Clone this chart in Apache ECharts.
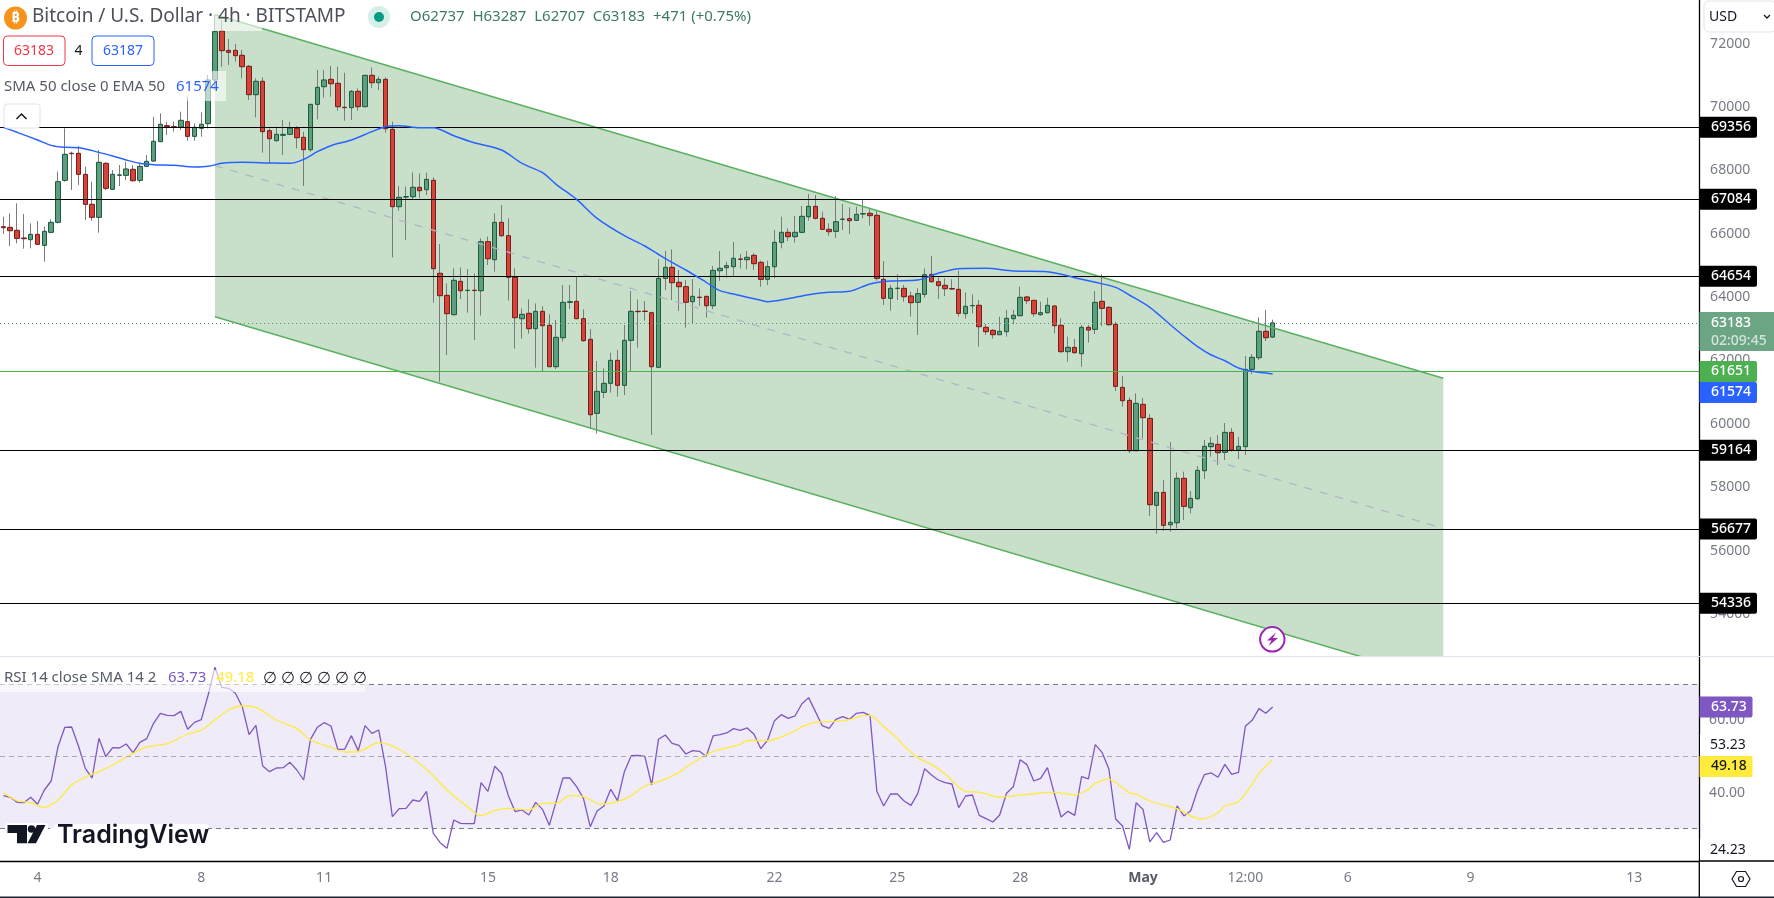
<!DOCTYPE html>
<html>
<head>
    <meta charset="utf-8">
    <title>Bitcoin / U.S. Dollar 4h</title>
    <script src="https://cdn.jsdelivr.net/npm/echarts@6/dist/echarts.min.js"></script>
    <style>
        html, body { margin: 0; padding: 0; background: #fff; }
        #main { width: 1774px; height: 898px; }
    </style>
</head>
<body>
<div id="main"></div>
<script type="text/javascript">
    // candles, first one is 5 bars before 4 Apr 00:00
    var opens = [
        66220,66199,66105,65862,65810,65978,65631,66042,66357,67683,
        68535,68535,67872,66925,66515,68219,67399,67843,67840,68030,
        67683,68124,68293,68903,69408,69376,69366,69534,69071,69324,
        69471,70849,72396,71785,71785,71628,71281,70386,70807,69250,
        68935,69103,69134,69324,69040,68651,70081,70639,70870,70744,
        69987,69976,70491,70008,70996,70765,70870,69292,66852,67157,
        67167,67462,67388,67683,64748,64053,63443,64495,64205,64215,
        64200,65747,65179,66357,65936,64621,63317,63485,63001,63548,
        63106,61802,62717,63832,63864,63317,62665,60329,60992,61276,
        62002,61213,62633,63549,63554,63506,61781,64590,64937,64464,
        64327,63854,63995,64022,63727,64832,64927,64958,65200,65179,
        65316,65095,64558,64958,65726,66042,65905,66042,66536,66862,
        66484,66136,66073,66449,66473,66420,66622,66641,66578,64558,
        63959,64269,64274,64032,63833,64085,64716,64485,64369,64269,
        64243,63475,63724,63738,63044,62949,62812,62907,63317,63412,
        64001,63895,63443,63506,63717,63107,62276,62412,62212,63044,
        62980,63864,63674,63138,61150,60739,59151,60613,60171,57426,
        57836,56815,56878,58278,57352,57636,58520,59277,59351,59098,
        59729,59172,59277,61718,62086,62917,62737
    ];
    var closes = [
        66189,66094,65852,65842,65978,65663,66073,66357,67641,68503,
        68525,67872,66925,66515,68251,67430,67872,67853,68040,67672,
        68124,68282,68914,69450,69376,69365,69576,69071,69355,69450,
        70849,72375,71775,71722,71617,71270,70386,70807,69219,68998,
        69134,69134,69334,69029,68651,70081,70618,70849,70733,70008,
        69977,70491,70008,70996,70765,70870,69313,66852,67146,67167,
        67462,67357,67714,64895,64043,63475,64527,64200,64215,64205,
        65747,65210,66357,65936,64621,63349,63453,63001,63548,63096,
        61802,62728,63832,63853,63317,62623,60287,61024,61276,62002,
        61213,62633,63549,63539,63544,61802,64590,64937,64453,64327,
        63833,64022,63985,63727,64842,64906,64990,65221,65190,65253,
        65053,64558,64958,65726,66042,65905,66042,66547,66862,66484,
        66136,66063,66378,66459,66410,66610,66632,66568,64590,63959,
        64274,64279,64011,63822,64106,64706,64485,64359,64264,64254,
        63485,63706,63734,63065,62907,62812,62917,63328,63422,63990,
        63885,63475,63506,63738,63096,62276,62412,62244,63044,62959,
        63832,63643,63127,61181,60729,59151,60645,60192,57447,57836,
        56794,56889,58278,57394,57646,58530,59288,59382,59088,59729,
        59172,59288,61718,62096,62917,62717,63183
    ];
    var lows = [
        65989,65610,65694,65526,65537,65642,65116,66010,66326,67641,
        67378,67535,66431,66410,66031,67378,67378,67504,67693,67641,
        67609,68114,68272,68903,69113,69219,69271,68935,68935,69061,
        69324,70534,71270,71323,71428,70902,70218,69671,68556,68219,
        68903,68482,69113,68693,67504,68587,69608,70292,70323,69881,
        69566,69587,69881,70008,70597,70534,69187,65253,66725,65800,
        67062,67115,67220,63822,61329,62170,63443,63937,63506,62644,
        63412,65011,64800,65905,63885,62370,62686,62843,61770,61644,
        61802,61728,62591,63622,63317,62591,59835,59687,60813,60982,
        60855,60908,61665,62402,63254,59646,61781,64222,63906,63559,
        63033,63149,63717,63349,63622,64506,64611,64643,64906,64874,
        64853,64327,64380,64590,65537,65768,65716,66010,66410,66452,
        66115,65937,65863,66115,65989,66399,66484,66252,64516,63748,
        63570,63906,63854,63380,62802,63980,64453,63938,64032,64222,
        63380,63317,63485,62433,62802,62686,62802,62749,63149,63412,
        63780,63380,63412,63485,62854,62244,61960,62212,61802,62560,
        62833,63085,63096,61034,60539,59077,59151,59540,57089,56531,
        56615,56594,56700,56963,57173,57594,58257,58961,58698,58856,
        59119,58888,59014,61570,62012,62612,62707
    ];
    var highs = [
        66536,66641,66957,66620,66326,66399,66220,66452,67956,69324,
        68587,68766,68114,67641,68640,68251,68009,68166,68272,68166,
        68219,68482,69692,69797,69534,69534,69850,70323,69482,69829,
        71007,72901,72743,72143,71985,71796,71323,70902,70933,69324,
        69376,69587,69534,69397,69219,70081,71165,71165,71291,71270,
        71081,70534,70586,71007,71249,70954,70933,69534,67504,67483,
        67935,67904,67925,67777,65673,64432,64905,64937,64884,64748,
        65852,65905,66641,66904,66483,64905,63643,63927,63801,63717,
        63453,63275,64379,64379,64663,63612,62991,61981,61750,62244,
        62328,63117,64190,63927,63875,63540,65200,65453,65505,64853,
        64537,64569,64274,64032,64979,65453,65116,65737,65358,65453,
        65379,65148,65148,66115,66536,66168,66557,66873,67252,67220,
        66694,66326,67188,66936,66831,66852,67083,66799,66747,65137,
        64380,64727,64380,64169,64274,64906,65295,64622,64590,64558,
        64832,64148,64085,63906,63149,62980,63380,63591,63591,64327,
        64032,63906,63854,63980,63748,63328,62749,62675,63117,63117,
        64190,64726,63716,63222,61507,60834,60960,60813,60308,57836,
        58225,59424,58467,58488,57878,58667,59487,59582,59645,60024,
        59866,59582,62138,62202,63359,63590,63287
    ];

    // EMA 50 readings, emaBars counted from 4 Apr 00:00
    var emaBars = [-5,-3,0,2,4,6,9,11,13,15,17,20,23,25,27,30,34,37,39,41,43,46,49,51,53,56,58,61,64,68,71,
        74,76,79,82,86,89,92,95,98,100,102,106,107,110,113,116,119,122,125,129,132,135,139,143,148,152,155,
        158,160,163,166,168,170,172,174,176,178,181];
    var emaValues = [69355,69198,68956,68787,68724,68714,68566,68451,68324,68219,68177,68156,68103,68124,68219,68251,68230,68219,68345,68587,68777,68956,69219,69376,69408,69345,69345,69092,68871,68640,68219,
        67925,67557,67083,66484,65937,65610,65211,64853,64464,64201,64096,63896,63854,63948,64075,64148,64180,64411,64506,64537,64748,64895,64906,64821,64800,64611,64464,
        64306,64064,63674,63127,62770,62433,62170,61991,61760,61655,61574];

    var rsiValues = [
        39.15,38.69,37.30,37.21,38.69,36.75,40.72,43.21,52.72,58.08,
        58.17,52.91,46.72,44.04,55.03,49.95,52.45,52.35,53.46,51.06,
        53.92,54.94,59.19,61.96,61.40,61.31,62.51,57.53,59.46,60.20,
        67.04,74.70,69.16,68.88,67.50,63.80,56.05,58.63,47.37,45.80,
        46.81,46.91,48.38,46.26,43.49,54.76,58.08,59.37,58.45,51.99,
        51.99,55.77,51.62,58.54,56.42,57.34,47.18,33.33,35.55,35.64,
        37.95,37.58,40.35,28.72,26.13,24.56,32.41,31.49,31.39,31.39,
        42.75,40.35,47.28,45.34,39.15,34.72,35.18,33.79,37.30,35.36,
        30.93,37.49,44.04,44.04,41.64,38.41,30.56,34.90,36.29,40.90,
        37.76,45.80,50.23,50.32,50.05,42.10,54.76,55.96,53.65,53.09,
        50.69,51.62,51.43,50.05,55.68,56.05,56.51,57.71,57.25,57.90,
        56.14,52.17,54.57,59.93,61.59,60.57,61.22,64.54,66.30,62.42,
        58.54,57.80,60.30,61.03,60.30,61.96,62.23,61.31,40.35,36.29,
        39.61,39.61,37.67,36.47,39.80,46.63,44.88,43.49,42.75,42.38,
        35.83,39.06,39.33,33.70,32.78,31.86,33.79,39.80,41.64,49.12,
        47.74,43.21,43.95,46.91,39.80,33.24,34.81,33.70,44.41,43.77,
        53.28,51.15,46.54,32.69,30.75,24.28,37.21,35.36,26.32,28.90,
        26.22,26.87,36.29,33.52,34.99,40.72,44.97,45.43,44.23,47.83,
        45.06,45.61,58.36,60.02,63.25,61.96,63.73
    ];
    var rsiMaBars = [-5,-3,-1,1,3,5,7,9,11,14,16,19,22,24,26,28,30,32,35,38,40,43,45,47,50,53,57,60,63,65,67,69,72,74,76,78,80,82,
        83,85,87,89,91,94,95,97,99,103,104,107,111,112,114,117,119,121,122,124,126,127,129,131,133,136,138,141,145,149,152,154,155,157,160,161,163,167,170,171,173,174,176,178,179,181];
    var rsiMaValues = [39.98,37.77,37.21,35.83,37.95,42.10,44.32,45.80,47.65,50.88,52.63,53.56,56.23,57.34,60.11,62.88,63.99,63.62,60.11,57.71,54.57,52.54,51.25,51.34,53.83,51.99,46.44,40.72,36.10,33.61,34.99,35.64,35.18,37.03,37.03,39.15,38.87,37.03,
        36.84,37.49,39.15,41.83,43.03,45.52,47.00,49.31,51.34,53.37,54.48,54.39,57.06,58.26,59.46,59.74,60.20,61.31,61.31,58.26,55.03,52.91,49.68,47.83,45.15,40.35,40.07,38.78,39.52,40.07,39.33,40.90,42.57,43.68,39.98,39.52,37.67,35.46,32.87,32.78,34.44,36.29,37.49,42.29,45.34,49.18];

    // channel drawing
    var channelBars = [26, 206];
    var channelUpper = [72916, 61435];
    var channelLower = [63379, 51882];
    var channelMiddle = [68147, 56700];

    // support / resistance
    var blackLevels = [69356, 67084, 64654, 59164, 56677, 54336];
    var greenLevel = 61651;
    var lastPrice = 63183;
    var lastEma = 61574;
    var lastRsi = 63.73;
    var lastRsiMa = 49.18;

    // axes
    var priceTicks = [72000,70000,68000,66000,64000,62000,60000,58000,56000,54000];
    var rsiTicks = [60, 40];
    var rsiScaleLabels = [53.23, 24.23];
    var timeLabels = ['4','8','11','15','18','22','25','28','May','12:00','6','9','13'];
    var timeLabelBars = [0,24,42,66,84,108,126,144,162,177,192,210,234];

    var barOffset = 5;
    var barCount = 249;
    var font = '"Noto Sans", sans-serif';

    function sparse(bars, values) {
        var out = [];
        for (var i = 0; i < barCount; i++) out.push(null);
        bars.forEach(function (b, k) { out[b + barOffset] = values[k]; });
        return out;
    }

    var categories = [];
    for (var c = 0; c < barCount; c++) categories.push('');
    timeLabels.forEach(function (t, k) { categories[timeLabelBars[k] + barOffset] = t; });

    var wickData = opens.map(function (o, k) { return [o, closes[k], lows[k], highs[k]]; });
    var bodyData = opens.map(function (o, k) {
        return [o, closes[k], Math.min(o, closes[k]), Math.max(o, closes[k])];
    });

    var myChart = echarts.init(document.getElementById('main'));

    var levelLines = blackLevels.map(function (v) {
        return { yAxis: v, lineStyle: { color: '#000', width: 1.1, type: 'solid' } };
    });
    levelLines.push({ yAxis: greenLevel, lineStyle: { color: '#4caf50', width: 1.2, type: 'solid' } });
    levelLines.push({ yAxis: lastPrice, lineStyle: { color: '#4f9a75', width: 1, type: [1, 3] } });

    var option = {
        backgroundColor: '#fff',
        animation: false,
        grid: [
            { left: -1.55, width: barCount * 6.83, top: 0, height: 656 },
            { left: -1.55, width: barCount * 6.83, top: 657, height: 204 }
        ],
        xAxis: [
            { type: 'category', gridIndex: 0, data: categories, show: false },
            {
                type: 'category', gridIndex: 1, data: categories,
                axisTick: { show: false },
                axisLine: { lineStyle: { color: '#000', width: 1.3 } },
                axisLabel: {
                    margin: 10,
                    fontFamily: font,
                    fontSize: 14,
                    color: '#787b86',
                    interval: function (index, value) { return value !== ''; },
                    formatter: function (value) { return value === 'May' ? '{b|May}' : value; },
                    rich: { b: { fontFamily: font, fontSize: 14, fontWeight: 'bold', color: '#555a66' } }
                }
            }
        ],
        yAxis: [
            {
                type: 'value', gridIndex: 0, position: 'right',
                min: 52672, max: 73374,
                splitLine: { show: false },
                axisTick: { show: false },
                axisLine: { show: true, lineStyle: { color: '#000', width: 1.3 } },
                axisLabel: {
                    customValues: priceTicks, margin: 11, fontFamily: font, fontSize: 14, color: '#787b86',
                    formatter: function (v) { return String(v); }
                }
            },
            {
                type: 'value', gridIndex: 1, position: 'right',
                min: 21.05, max: 77.56,
                splitLine: { show: false },
                axisTick: { show: false },
                axisLine: { show: true, lineStyle: { color: '#000', width: 1.3 } },
                axisLabel: {
                    customValues: rsiTicks, margin: 10, fontFamily: font, fontSize: 14, color: '#787b86',
                    formatter: function (v) { return v.toFixed(2); }
                }
            }
        ],
        series: [
            {
                type: 'custom', name: 'channel', xAxisIndex: 0, yAxisIndex: 0, z: 1, clip: true, silent: true,
                data: [[channelBars[0] + barOffset, channelUpper[0], channelLower[0], channelBars[1] + barOffset, channelUpper[1], channelLower[1]]],
                renderItem: function (params, api) {
                    var a = api.coord([api.value(0), api.value(1)]);
                    var b = api.coord([api.value(3), api.value(4)]);
                    var c = api.coord([api.value(3), api.value(5)]);
                    var d = api.coord([api.value(0), api.value(2)]);
                    return {
                        type: 'polygon',
                        shape: { points: [a, b, c, d] },
                        style: { fill: 'rgba(56,142,60,0.28)' }
                    };
                }
            },
            {
                type: 'candlestick', name: 'wicks', xAxisIndex: 0, yAxisIndex: 0, z: 2, barWidth: 3, silent: true,
                data: wickData,
                itemStyle: { color: '#7b7b7b', color0: '#7b7b7b', borderColor: '#7b7b7b', borderColor0: '#7b7b7b', borderWidth: 1 }
            },
            {
                type: 'candlestick', name: 'BTCUSD', xAxisIndex: 0, yAxisIndex: 0, z: 3, barWidth: 5, silent: true,
                data: bodyData,
                itemStyle: { color: '#5d9e7d', color0: '#d5443a', borderColor: '#1d5c40', borderColor0: '#7a1d18', borderWidth: 1 }
            },
            {
                type: 'line', name: 'upper', xAxisIndex: 0, yAxisIndex: 0, z: 4, connectNulls: true, showSymbol: false, silent: true,
                data: sparse(channelBars, channelUpper), lineStyle: { color: '#5bb060', width: 1.5 }
            },
            {
                type: 'line', name: 'lower', xAxisIndex: 0, yAxisIndex: 0, z: 4, connectNulls: true, showSymbol: false, silent: true,
                data: sparse(channelBars, channelLower), lineStyle: { color: '#5bb060', width: 1.5 }
            },
            {
                type: 'line', name: 'middle', xAxisIndex: 0, yAxisIndex: 0, z: 4, connectNulls: true, showSymbol: false, silent: true,
                data: sparse(channelBars, channelMiddle), lineStyle: { color: '#b4b4c4', width: 1.3, type: [8, 8] }
            },
            {
                type: 'line', name: 'EMA 50', xAxisIndex: 0, yAxisIndex: 0, z: 5, connectNulls: true, showSymbol: false, silent: true,
                smooth: 0.3,
                data: sparse(emaBars, emaValues), lineStyle: { color: '#2962ff', width: 1.5 },
                markLine: { silent: true, symbol: 'none', label: { show: false }, data: levelLines }
            },
            {
                type: 'line', name: 'RSI', xAxisIndex: 1, yAxisIndex: 1, z: 3, showSymbol: false, silent: true,
                data: rsiValues, lineStyle: { color: '#7e57c2', width: 1.3 },
                markArea: {
                    silent: true,
                    itemStyle: { color: 'rgba(126,87,194,0.12)' },
                    data: [[{ yAxis: 70 }, { yAxis: 30 }]]
                },
                markLine: {
                    silent: true, symbol: 'none', label: { show: false },
                    data: [
                        { yAxis: 70, lineStyle: { color: '#787b86', width: 1, type: [5, 4] } },
                        { yAxis: 50, lineStyle: { color: '#a9a9b3', width: 1, type: [5, 4] } },
                        { yAxis: 30, lineStyle: { color: '#787b86', width: 1, type: [5, 4] } }
                    ]
                }
            },
            {
                type: 'line', name: 'RSI MA', xAxisIndex: 1, yAxisIndex: 1, z: 4, connectNulls: true, showSymbol: false, silent: true,
                smooth: 0.3,
                data: sparse(rsiMaBars, rsiMaValues), lineStyle: { color: '#ffeb3b', width: 1.3 }
            }
        ]
    };
    myChart.setOption(option);

    function text(x, y, str, fill, size, extra) {
        var style = { text: str, fill: fill, font: (extra && extra.weight ? extra.weight + ' ' : '') + size + 'px ' + font, verticalAlign: 'middle', align: (extra && extra.align) || 'left' };
        return { type: 'text', x: x, y: y, z: 30, silent: true, style: style };
    }
    function box(x, y, w, h, fill, stroke, r, z) {
        return {
            type: 'rect', z: z || 20, silent: true,
            shape: { x: x, y: y, width: w, height: h, r: r || 0 },
            style: { fill: fill, stroke: stroke || null, lineWidth: stroke ? 1 : 0 }
        };
    }
    function rule(x1, y1, x2, y2, color, width) {
        return {
            type: 'line', z: 25, silent: true,
            shape: { x1: x1, y1: y1, x2: x2, y2: y2 },
            style: { stroke: color, lineWidth: width || 1 }
        };
    }
    // price scale tag at the right of the pane
    function tag(y, str, bg, color, w) {
        return [
            box(1699.5, y - 10.5, w || 57.5, 21, bg, null, [0, 2, 2, 0], 26),
            text(1711, y, str, color, 14, { weight: 500 })
        ];
    }

    var priceY = function (v) { return myChart.convertToPixel({ yAxisIndex: 0 }, v); };
    var rsiY = function (v) { return myChart.convertToPixel({ yAxisIndex: 1 }, v); };

    var g = [];
    // legend veils
    g.push(box(0, 0, 262, 31, 'rgba(255,255,255,0.6)', null, 0, 10));
    g.push(box(0, 71, 226, 30, 'rgba(255,255,255,0.6)', null, 0, 10));
    g.push(box(0, 670, 365, 22, 'rgba(255,255,255,0.6)', null, 0, 10));

    // header
    g.push({ type: 'circle', z: 20, silent: true, shape: { cx: 15.5, cy: 18, r: 11.5 }, style: { fill: '#f7931a' } });
    g.push(text(15.5, 18, '₿', '#fff', 15, { align: 'center', weight: 'bold' }));
    g.push(text(32, 17, 'Bitcoin / U.S. Dollar · 4h · BITSTAMP', '#4d5059', 19));
    g.push({ type: 'circle', z: 20, silent: true, shape: { cx: 379, cy: 17, r: 11 }, style: { fill: '#d5efe9' } });
    g.push({ type: 'circle', z: 21, silent: true, shape: { cx: 379, cy: 17, r: 5 }, style: { fill: '#089981' } });
    g.push(text(410, 17, 'O62737  H63287  L62707  C63183  +471 (+0.75%)', '#3c7a62', 15));

    g.push(box(3.5, 36, 61.5, 29.5, '#fff', '#f23645', 4));
    g.push(text(34, 51, '63183', '#f23645', 14, { align: 'center' }));
    g.push(text(78.5, 51, '4', '#131722', 14, { align: 'center' }));
    g.push(box(92, 36, 62, 29.5, '#fff', '#2962ff', 4));
    g.push(text(123, 51, '63187', '#2962ff', 14, { align: 'center' }));

    g.push(text(4, 87, 'SMA 50 close 0 EMA 50', '#555a66', 15));
    g.push(text(176, 87, String(lastEma), '#2962ff', 15));

    g.push(box(4, 104, 36, 24, '#fff', '#e0e3eb', 3));
    g.push({ type: 'polyline', z: 30, silent: true, shape: { points: [[16.5, 119], [21.5, 114], [26.5, 119]] }, style: { stroke: '#131722', lineWidth: 1.5, fill: null } });

    // RSI legend
    g.push(text(4, 678, 'RSI 14 close SMA 14 2', '#555a66', 15));
    g.push(text(168, 678, String(lastRsi), '#7e57c2', 15));
    g.push(text(216, 678, String(lastRsiMa), '#ffeb3b', 15));
    [263, 281, 299, 317, 335, 353].forEach(function (x) { g.push(text(x, 678, '∅', '#131722', 16)); });

    // frame bits the axes do not cover
    g.push(rule(0, 656.5, 1774, 656.5, '#e0e3eb', 1));
    g.push(rule(1699, 861, 1774, 861, '#000', 1.3));
    g.push(rule(1699.3, 861, 1699.3, 897, '#000', 1.3));
    g.push(box(0, 896.5, 1774, 1.5, '#1e222d', null, 0, 25));

    // USD button
    g.push(box(1704, 1, 72, 31, '#fff', '#e0e3eb', 5));
    g.push(text(1709, 17, 'USD', '#131722', 14));
    g.push({ type: 'polyline', z: 30, silent: true, shape: { points: [[1764, 15], [1767, 18], [1770, 15]] }, style: { stroke: '#131722', lineWidth: 1.3, fill: null } });

    // settings hexagon
    g.push({ type: 'polygon', z: 30, silent: true, shape: { points: [[1732, 879], [1736.5, 871.5], [1745.5, 871.5], [1750, 879], [1745.5, 886.5], [1736.5, 886.5]] }, style: { stroke: '#131722', lineWidth: 1.2, fill: '#fff' } });
    g.push({ type: 'circle', z: 31, silent: true, shape: { cx: 1741, cy: 879, r: 2.5 }, style: { stroke: '#131722', lineWidth: 1.2, fill: '#fff' } });

    // lightning badge
    g.push({ type: 'circle', z: 30, silent: true, shape: { cx: 1272.3, cy: 639.3, r: 12.2 }, style: { stroke: '#9c27b0', lineWidth: 2, fill: '#fff' } });
    g.push({ type: 'polygon', z: 31, silent: true, shape: { points: [[1276, 632.5], [1267, 640.5], [1271.5, 640.5], [1268.5, 646], [1278, 638], [1273, 638]] }, style: { fill: '#9c27b0' } });

    // TradingView logo, white halo behind it breaks the 30 line
    g.push(box(5, 823, 43, 23, '#fff', null, 3, 28));
    g.push(box(54, 824, 154, 26, '#fff', null, 3, 28));
    g.push({ type: 'polygon', z: 30, silent: true, shape: { points: [[7.5, 825], [27, 825], [27, 843.3], [17, 843.3], [17, 833], [7.5, 833]] }, style: { fill: '#131722' } });
    g.push({ type: 'circle', z: 30, silent: true, shape: { cx: 31.5, cy: 829, r: 3.8 }, style: { fill: '#131722' } });
    g.push({ type: 'polygon', z: 30, silent: true, shape: { points: [[37, 825], [45.5, 825], [36, 843.3], [27.5, 843.3]] }, style: { fill: '#131722' } });
    g.push({
        type: 'text', x: 57, y: 835, z: 30, silent: true,
        style: { text: 'TradingView', fill: '#131722', font: '600 25px Inter, sans-serif', verticalAlign: 'middle' }
    });

    // price scale tags
    blackLevels.forEach(function (v) {
        g = g.concat(tag(priceY(v), String(v), '#000', '#fff'));
    });
    g.push(box(1699.5, 312, 74.5, 39, '#6ba583', null, 0, 25));
    g.push(text(1711, 323, String(lastPrice), '#fff', 14, { weight: 500 }));
    g.push(text(1711, 341, '02:09:45', 'rgba(255,255,255,0.7)', 14, { weight: 500 }));
    g = g.concat(tag(priceY(greenLevel), String(greenLevel), '#4caf50', '#fff'));
    g = g.concat(tag(priceY(lastEma) + 18.5, String(lastEma), '#2962ff', '#fff'));

    rsiScaleLabels.forEach(function (v) {
        g.push(box(1700, rsiY(v) - 10.5, 74, 21, '#fff', null, 0, 24));
        g.push(text(1710, rsiY(v) + 0.5, v.toFixed(2), '#131722', 14));
    });
    g = g.concat(tag(rsiY(lastRsi), lastRsi.toFixed(2), '#7e57c2', '#fff', 53));
    g = g.concat(tag(rsiY(lastRsiMa) + 7, lastRsiMa.toFixed(2), '#ffeb3b', '#131722', 53));

    myChart.setOption({ graphic: g });
</script>
</body>
</html>
